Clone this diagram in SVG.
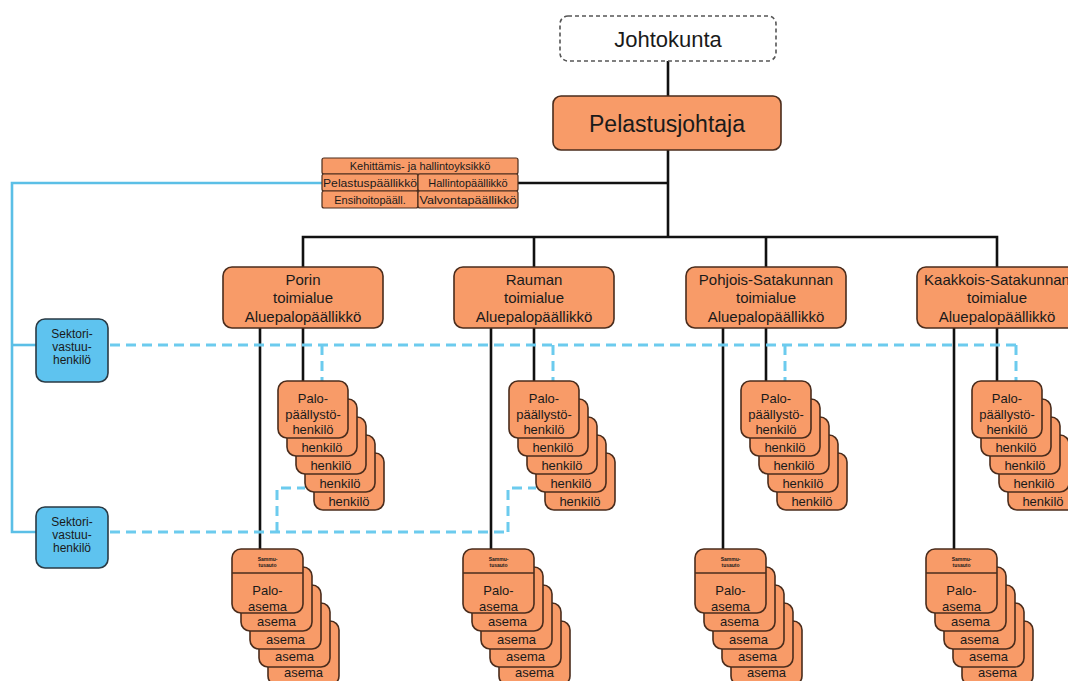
<svg xmlns="http://www.w3.org/2000/svg" width="1068" height="681" viewBox="0 0 1068 681">
<defs>
<style>
text{font-family:"Liberation Sans",Arial,sans-serif;fill:#1a1a1a;text-anchor:middle}
.box{fill:#f89b68;stroke:#4a2c1c;stroke-width:1.6}
.blue{fill:#5ec3ef;stroke:#2a3a44;stroke-width:1.6}
.cell{fill:#f89b68;stroke:#4a2c1c;stroke-width:1.2}
.bl{stroke:#111;stroke-width:2.6;fill:none}
.sl{stroke:#5bbfe6;stroke-width:2.6;fill:none}
.dl{stroke:#6ccbee;stroke-width:3;stroke-dasharray:10 6;fill:none}
.t15{font-size:15px}
.t13{font-size:13px}
.t12{font-size:12px}
.t11{font-size:11px}
.tiny{font-size:5px;font-weight:bold}
</style>
</defs>
<rect width="1068" height="681" fill="#fff"/>
<g id="connectors">
<line class="bl" x1="668" y1="61" x2="668" y2="96"/>
<line class="bl" x1="668" y1="150" x2="668" y2="237"/>
<line class="bl" x1="518" y1="183" x2="668" y2="183"/>
<polyline class="bl" points="303,267 303,237 997,237 997,267"/>
<line class="bl" x1="534" y1="237" x2="534" y2="267"/>
<line class="bl" x1="766" y1="237" x2="766" y2="267"/>
<line class="bl" x1="303" y1="328" x2="303" y2="381"/>
<line class="bl" x1="534" y1="328" x2="534" y2="381"/>
<line class="bl" x1="766" y1="328" x2="766" y2="381"/>
<line class="bl" x1="997" y1="328" x2="997" y2="381"/>
<line class="bl" x1="260" y1="328" x2="260" y2="549"/>
<line class="bl" x1="491" y1="328" x2="491" y2="549"/>
<line class="bl" x1="723" y1="328" x2="723" y2="549"/>
<line class="bl" x1="954" y1="328" x2="954" y2="549"/>
<polyline class="sl" points="322,183 12,183 12,532 36,532"/>
<line class="sl" x1="12" y1="345" x2="36" y2="345"/>
<line class="dl" x1="110" y1="345" x2="1017" y2="345"/>
<line class="dl" x1="322" y1="345" x2="322" y2="381"/>
<line class="dl" x1="553" y1="345" x2="553" y2="381"/>
<line class="dl" x1="785" y1="345" x2="785" y2="381"/>
<line class="dl" x1="1016" y1="345" x2="1016" y2="381"/>
<line class="dl" x1="110" y1="532" x2="508" y2="532"/>
<polyline class="dl" points="277,532 277,488 305,488"/>
<polyline class="dl" points="508,532 508,488 536,488"/>
</g>
<g id="johtokunta">
<rect x="560" y="16" width="216" height="45" rx="8" fill="#fff" stroke="#555" stroke-width="1.6" stroke-dasharray="4 3"/>
<text x="668" y="47" style="font-size:22px">Johtokunta</text>
</g>
<g id="pelastusjohtaja">
<rect class="box" x="553" y="96" width="228" height="54" rx="8"/>
<text x="667" y="132" style="font-size:23px">Pelastusjohtaja</text>
</g>
<g id="kehittamis">
<rect class="cell" x="322" y="158" width="196" height="16" rx="2"/>
<text class="t11" x="420" y="170">Kehittämis- ja hallintoyksikkö</text>
<rect class="cell" x="322" y="174" width="96" height="17" rx="2"/>
<text class="t11" x="370" y="187" textLength="94" lengthAdjust="spacingAndGlyphs">Pelastuspäällikkö</text>
<rect class="cell" x="418" y="174" width="100" height="17" rx="2"/>
<text class="t11" x="468" y="187">Hallintopäällikkö</text>
<rect class="cell" x="322" y="191" width="96" height="17" rx="2"/>
<text class="t11" x="370" y="204">Ensihoitopääll.</text>
<rect class="cell" x="418" y="191" width="100" height="17" rx="2"/>
<text class="t11" x="468" y="204" textLength="97" lengthAdjust="spacingAndGlyphs">Valvontapäällikkö</text>
</g>
<g id="sektori1">
<rect class="blue" x="36" y="319" width="72" height="63" rx="9"/>
<text class="t12" x="72" y="338">Sektori-</text>
<text class="t12" x="72" y="351">vastuu-</text>
<text class="t12" x="72" y="364">henkilö</text>
</g>
<g id="sektori2">
<rect class="blue" x="36" y="507" width="72" height="61" rx="9"/>
<text class="t12" x="72" y="526">Sektori-</text>
<text class="t12" x="72" y="539">vastuu-</text>
<text class="t12" x="72" y="552">henkilö</text>
</g>
<g id="porin">
<rect class="box" x="223" y="267" width="160" height="61" rx="9"/>
<text class="t15" x="303" y="285">Porin</text>
<text class="t15" x="303" y="303">toimialue</text>
<text class="t15" x="303" y="322">Aluepalopäällikkö</text>
</g>
<g id="rauman">
<rect class="box" x="454" y="267" width="160" height="61" rx="9"/>
<text class="t15" x="534" y="285">Rauman</text>
<text class="t15" x="534" y="303">toimialue</text>
<text class="t15" x="534" y="322">Aluepalopäällikkö</text>
</g>
<g id="pohjois">
<rect class="box" x="686" y="267" width="160" height="61" rx="9"/>
<text class="t15" x="766" y="285">Pohjois-Satakunnan</text>
<text class="t15" x="766" y="303">toimialue</text>
<text class="t15" x="766" y="322">Aluepalopäällikkö</text>
</g>
<g id="kaakkois">
<rect class="box" x="917" y="267" width="160" height="61" rx="9"/>
<text class="t15" x="997" y="285">Kaakkois-Satakunnan</text>
<text class="t15" x="997" y="303">toimialue</text>
<text class="t15" x="997" y="322">Aluepalopäällikkö</text>
</g>
<g id="paallysto-porin" transform="translate(278,381)">
<rect class="box" x="36" y="72" width="70" height="57" rx="9"/><text class="t13" x="71" y="125">henkilö</text>
<rect class="box" x="27" y="54" width="70" height="57" rx="9"/><text class="t13" x="62" y="107">henkilö</text>
<rect class="box" x="18" y="36" width="70" height="57" rx="9"/><text class="t13" x="53" y="89">henkilö</text>
<rect class="box" x="9" y="18" width="70" height="57" rx="9"/><text class="t13" x="44" y="71">henkilö</text>
<rect class="box" x="0" y="0" width="70" height="57" rx="9"/>
<text class="t13" x="35" y="22">Palo-</text>
<text class="t13" x="35" y="38">päällystö-</text>
<text class="t13" x="35" y="53">henkilö</text>
</g>
<g id="paallysto-rauman" transform="translate(509,381)">
<rect class="box" x="36" y="72" width="70" height="57" rx="9"/><text class="t13" x="71" y="125">henkilö</text>
<rect class="box" x="27" y="54" width="70" height="57" rx="9"/><text class="t13" x="62" y="107">henkilö</text>
<rect class="box" x="18" y="36" width="70" height="57" rx="9"/><text class="t13" x="53" y="89">henkilö</text>
<rect class="box" x="9" y="18" width="70" height="57" rx="9"/><text class="t13" x="44" y="71">henkilö</text>
<rect class="box" x="0" y="0" width="70" height="57" rx="9"/>
<text class="t13" x="35" y="22">Palo-</text>
<text class="t13" x="35" y="38">päällystö-</text>
<text class="t13" x="35" y="53">henkilö</text>
</g>
<g id="paallysto-pohjois" transform="translate(741,381)">
<rect class="box" x="36" y="72" width="70" height="57" rx="9"/><text class="t13" x="71" y="125">henkilö</text>
<rect class="box" x="27" y="54" width="70" height="57" rx="9"/><text class="t13" x="62" y="107">henkilö</text>
<rect class="box" x="18" y="36" width="70" height="57" rx="9"/><text class="t13" x="53" y="89">henkilö</text>
<rect class="box" x="9" y="18" width="70" height="57" rx="9"/><text class="t13" x="44" y="71">henkilö</text>
<rect class="box" x="0" y="0" width="70" height="57" rx="9"/>
<text class="t13" x="35" y="22">Palo-</text>
<text class="t13" x="35" y="38">päällystö-</text>
<text class="t13" x="35" y="53">henkilö</text>
</g>
<g id="paallysto-kaakkois" transform="translate(972,381)">
<rect class="box" x="36" y="72" width="70" height="57" rx="9"/><text class="t13" x="71" y="125">henkilö</text>
<rect class="box" x="27" y="54" width="70" height="57" rx="9"/><text class="t13" x="62" y="107">henkilö</text>
<rect class="box" x="18" y="36" width="70" height="57" rx="9"/><text class="t13" x="53" y="89">henkilö</text>
<rect class="box" x="9" y="18" width="70" height="57" rx="9"/><text class="t13" x="44" y="71">henkilö</text>
<rect class="box" x="0" y="0" width="70" height="57" rx="9"/>
<text class="t13" x="35" y="22">Palo-</text>
<text class="t13" x="35" y="38">päällystö-</text>
<text class="t13" x="35" y="53">henkilö</text>
</g>
<g id="asema-porin" transform="translate(232,549)">
<rect class="box" x="36" y="72" width="71" height="64" rx="9"/><text class="t13" x="71.5" y="128">asema</text>
<rect class="box" x="27" y="54" width="71" height="64" rx="9"/><text class="t13" x="62.5" y="112">asema</text>
<rect class="box" x="18" y="36" width="71" height="64" rx="9"/><text class="t13" x="53.5" y="95">asema</text>
<rect class="box" x="9" y="18" width="71" height="64" rx="9"/><text class="t13" x="44.5" y="77">asema</text>
<rect class="box" x="0" y="0" width="71" height="64" rx="9"/>
<line x1="0" y1="24" x2="71" y2="24" stroke="#4a2c1c" stroke-width="1.4"/>
<text class="tiny" x="35.5" y="12">Sammu-</text>
<text class="tiny" x="35.5" y="18">tusauto</text>
<text class="t13" x="35.5" y="46">Palo-</text>
<text class="t13" x="35.5" y="62">asema</text>
</g>
<g id="asema-rauman" transform="translate(463,549)">
<rect class="box" x="36" y="72" width="71" height="64" rx="9"/><text class="t13" x="71.5" y="128">asema</text>
<rect class="box" x="27" y="54" width="71" height="64" rx="9"/><text class="t13" x="62.5" y="112">asema</text>
<rect class="box" x="18" y="36" width="71" height="64" rx="9"/><text class="t13" x="53.5" y="95">asema</text>
<rect class="box" x="9" y="18" width="71" height="64" rx="9"/><text class="t13" x="44.5" y="77">asema</text>
<rect class="box" x="0" y="0" width="71" height="64" rx="9"/>
<line x1="0" y1="24" x2="71" y2="24" stroke="#4a2c1c" stroke-width="1.4"/>
<text class="tiny" x="35.5" y="12">Sammu-</text>
<text class="tiny" x="35.5" y="18">tusauto</text>
<text class="t13" x="35.5" y="46">Palo-</text>
<text class="t13" x="35.5" y="62">asema</text>
</g>
<g id="asema-pohjois" transform="translate(695,549)">
<rect class="box" x="36" y="72" width="71" height="64" rx="9"/><text class="t13" x="71.5" y="128">asema</text>
<rect class="box" x="27" y="54" width="71" height="64" rx="9"/><text class="t13" x="62.5" y="112">asema</text>
<rect class="box" x="18" y="36" width="71" height="64" rx="9"/><text class="t13" x="53.5" y="95">asema</text>
<rect class="box" x="9" y="18" width="71" height="64" rx="9"/><text class="t13" x="44.5" y="77">asema</text>
<rect class="box" x="0" y="0" width="71" height="64" rx="9"/>
<line x1="0" y1="24" x2="71" y2="24" stroke="#4a2c1c" stroke-width="1.4"/>
<text class="tiny" x="35.5" y="12">Sammu-</text>
<text class="tiny" x="35.5" y="18">tusauto</text>
<text class="t13" x="35.5" y="46">Palo-</text>
<text class="t13" x="35.5" y="62">asema</text>
</g>
<g id="asema-kaakkois" transform="translate(926,549)">
<rect class="box" x="36" y="72" width="71" height="64" rx="9"/><text class="t13" x="71.5" y="128">asema</text>
<rect class="box" x="27" y="54" width="71" height="64" rx="9"/><text class="t13" x="62.5" y="112">asema</text>
<rect class="box" x="18" y="36" width="71" height="64" rx="9"/><text class="t13" x="53.5" y="95">asema</text>
<rect class="box" x="9" y="18" width="71" height="64" rx="9"/><text class="t13" x="44.5" y="77">asema</text>
<rect class="box" x="0" y="0" width="71" height="64" rx="9"/>
<line x1="0" y1="24" x2="71" y2="24" stroke="#4a2c1c" stroke-width="1.4"/>
<text class="tiny" x="35.5" y="12">Sammu-</text>
<text class="tiny" x="35.5" y="18">tusauto</text>
<text class="t13" x="35.5" y="46">Palo-</text>
<text class="t13" x="35.5" y="62">asema</text>
</g>
</svg>
